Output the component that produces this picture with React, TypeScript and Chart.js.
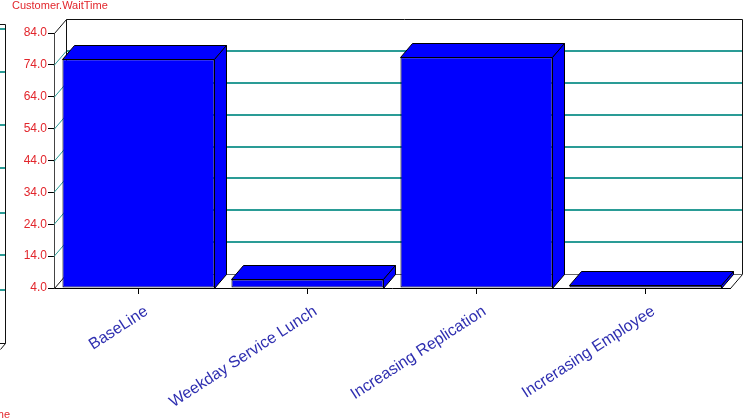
import React, { useEffect, useRef } from 'react';
import { Chart, registerables } from 'chart.js';

Chart.register(...registerables);

// ---- data ----
const categories = ['BaseLine', 'Weekday Service Lunch', 'Increasing Replication', 'Increrasing Employee'];
const waitTimes = [75.8, 6.7, 76.4, 4.9];
const yTicks = [4, 14, 24, 34, 44, 54, 64, 74, 84];
const titleText = 'Customer.WaitTime';

// ---- styles ----
const FONT = '"Liberation Sans", Arial, sans-serif';
const RED = '#e2262c';
const LABEL_BLUE = '#2e2eb0';
const BAR_BLUE = '#0000ff';
const TEAL = '#2a9c96';
const DX = 12;
const DY = -14;

const depthPlugin = {
  id: 'depth3d',
  beforeDatasetsDraw(chart: any) {
    const { ctx, chartArea: a, scales } = chart;
    const y = scales.y;
    const L = a.left, R = a.right, T = a.top, B = a.bottom;
    ctx.save();
    for (const v of yTicks.slice(1, -1)) {
      const fy = Math.round(y.getPixelForValue(v));
      const by = fy + DY;
      ctx.strokeStyle = TEAL;
      ctx.lineWidth = 2;
      ctx.beginPath();
      ctx.moveTo(L + DX, by);
      ctx.lineTo(R + DX, by);
      ctx.stroke();
      ctx.lineWidth = 1;
      ctx.beginPath();
      ctx.moveTo(L, fy + 0.5);
      ctx.lineTo(L + DX, by + 0.5);
      ctx.stroke();
    }
    ctx.lineWidth = 1;
    ctx.strokeStyle = '#111';
    ctx.beginPath();
    ctx.moveTo(L + DX + 0.5, B + DY + 0.5);
    ctx.lineTo(L + DX + 0.5, T + DY + 0.5);
    ctx.lineTo(R + DX + 0.5, T + DY + 0.5);
    ctx.lineTo(R + DX + 0.5, B + DY + 0.5);
    ctx.moveTo(L + 0.5, T + 0.5);
    ctx.lineTo(L + DX + 0.5, T + DY + 0.5);
    ctx.moveTo(L + 0.5, B + 0.5);
    ctx.lineTo(L + DX + 0.5, B + DY + 0.5);
    ctx.moveTo(R + 0.5, B + 0.5);
    ctx.lineTo(R + DX + 0.5, B + DY + 0.5);
    ctx.stroke();
    ctx.strokeStyle = '#666';
    ctx.beginPath();
    ctx.moveTo(L + DX + 0.5, B + DY + 0.5);
    ctx.lineTo(R + DX + 0.5, B + DY + 0.5);
    ctx.stroke();
    ctx.restore();
  },
  afterDatasetsDraw(chart: any) {
    const { ctx, chartArea } = chart;
    const meta = chart.getDatasetMeta(0);
    ctx.save();
    ctx.fillStyle = BAR_BLUE;
    ctx.strokeStyle = '#000';
    ctx.lineWidth = 1;
    meta.data.forEach((bar: any) => {
      const p = bar.getProps(['x', 'y', 'base', 'width'], true);
      const l = Math.round(p.x - p.width / 2) + 0.5;
      const r = Math.round(p.x + p.width / 2) - 0.5;
      const t = Math.round(p.y) + 0.5;
      const b = Math.round(Math.min(p.base, chartArea.bottom)) + 0.5;
      ctx.beginPath();
      ctx.moveTo(l, t);
      ctx.lineTo(l + DX, t + DY);
      ctx.lineTo(r + DX, t + DY);
      ctx.lineTo(r, t);
      ctx.closePath();
      ctx.fill();
      ctx.stroke();
      ctx.beginPath();
      ctx.moveTo(r, t);
      ctx.lineTo(r + DX, t + DY);
      ctx.lineTo(r + DX, b + DY);
      ctx.lineTo(r, b);
      ctx.closePath();
      ctx.fill();
      ctx.stroke();
    });
    ctx.restore();
  },
  afterDraw(chart: any) {
    const { ctx } = chart;
    ctx.save();
    ctx.font = `11px ${FONT}`;
    ctx.fillStyle = RED;
    ctx.textBaseline = 'alphabetic';
    ctx.textAlign = 'left';
    ctx.fillText(titleText, 12, 8.5);
    // fragment of the neighbouring panel at the left edge
    ctx.textAlign = 'right';
    ctx.fillText(titleText, 10, 418);
    ctx.strokeStyle = '#111';
    ctx.lineWidth = 1;
    ctx.beginPath();
    ctx.moveTo(0, 24.5);
    ctx.lineTo(5.5, 24.5);
    ctx.lineTo(5.5, 343.5);
    ctx.lineTo(0, 343.5);
    ctx.moveTo(5.5, 343.5);
    ctx.lineTo(0.5, 349.5);
    ctx.stroke();
    ctx.strokeStyle = TEAL;
    ctx.lineWidth = 2;
    [29, 72, 125, 168, 213, 255, 290].forEach((gy) => {
      ctx.beginPath();
      ctx.moveTo(0, gy);
      ctx.lineTo(5, gy);
      ctx.stroke();
    });
    ctx.restore();
  },
};

export default function App() {
  const ref = useRef<HTMLCanvasElement>(null);
  useEffect(() => {
    if (!ref.current) return;
    const chart = new Chart(ref.current, {
      type: 'bar',
      data: {
        labels: categories,
        datasets: [
          {
            data: waitTimes,
            base: 4,
            backgroundColor: BAR_BLUE,
            borderColor: '#000',
            borderWidth: 1,
            borderSkipped: false,
            categoryPercentage: 1,
            barPercentage: 0.9,
          } as any,
        ],
      },
      options: {
        responsive: false,
        animation: false,
        devicePixelRatio: 1,
        layout: { padding: { top: 33, right: 15, left: 0, bottom: 0 } },
        plugins: {
          legend: { display: false },
          tooltip: { enabled: false },
          title: { display: false },
        },
        scales: {
          x: {
            type: 'category',
            grid: { offset: false, drawOnChartArea: false, drawTicks: true, tickLength: 6, color: '#000' },
            border: { display: true, color: '#000' },
            ticks: {
              color: LABEL_BLUE,
              font: { family: FONT, size: 16 },
              minRotation: 33,
              maxRotation: 33,
              autoSkip: false,
              padding: 8,
              labelOffset: 8,
            },
            afterFit: (s: any) => {
              s.height = 132;
            },
          },
          y: {
            type: 'linear',
            min: 4,
            max: 84,
            grid: { drawOnChartArea: false, drawTicks: true, tickLength: 6, color: '#000' },
            border: { display: true, color: '#444' },
            ticks: {
              color: RED,
              font: { family: FONT, size: 12 },
              padding: 1,
              callback: (v: any) => Number(v).toFixed(1),
            },
            afterBuildTicks: (s: any) => {
              s.ticks = yTicks.map((v) => ({ value: v }));
            },
            afterFit: (s: any) => {
              s.width = 54;
            },
          },
        },
      },
      plugins: [depthPlugin],
    });
    return () => chart.destroy();
  }, []);
  return (
    <div style={{ position: 'absolute', left: 0, top: 0, width: 745, height: 420, background: '#fff' }}>
      <canvas ref={ref} width={745} height={420} style={{ display: 'block', width: 745, height: 420 }} />
    </div>
  );
}
